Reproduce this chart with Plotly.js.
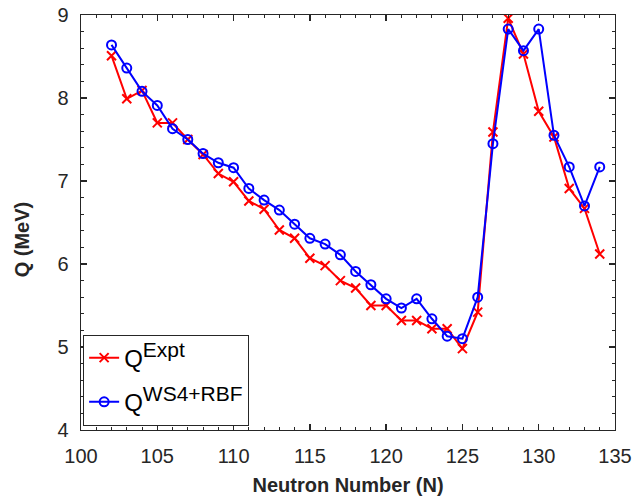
<!DOCTYPE html>
<html>
<head>
<meta charset="utf-8">
<script src="https://cdn.plot.ly/plotly-3.0.1.min.js"></script>
<style>html,body{margin:0;padding:0;background:#fff;}#chart{width:632px;height:501px;}</style>
</head>
<body>
<div id="chart"></div>
<script>
const neutronN = [102,103,104,105,106,107,108,109,110,111,112,113,114,115,116,117,118,119,120,121,122,123,124,125,126,127,128,129,130,131,132,133,134];
const qExpt = [8.51,7.99,8.09,7.70,7.70,7.50,7.32,7.09,6.99,6.76,6.66,6.41,6.31,6.07,5.98,5.80,5.71,5.50,5.50,5.32,5.32,5.22,5.22,4.98,5.42,7.59,8.96,8.53,7.84,7.53,6.91,6.67,6.12];
const qWS4 = [8.64,8.36,8.08,7.91,7.63,7.50,7.33,7.22,7.16,6.91,6.77,6.65,6.48,6.31,6.24,6.11,5.91,5.75,5.58,5.47,5.58,5.34,5.13,5.10,5.60,7.45,8.83,8.57,8.83,7.55,7.17,6.70,7.17];
const seriesNames = ['Q<sup><span style="font-size:21px">Expt</span></sup>', 'Q<sup><span style="font-size:21px">WS4+RBF</span></sup>'];
const xTitle = 'Neutron Number (N)';
const yTitle = 'Q (MeV)';

const axisColor = '#262626';
const fontFam = 'Liberation Sans, Arial, Helvetica, sans-serif';

const traces = [
  {x: neutronN, y: qExpt, name: seriesNames[0], type: 'scatter', mode: 'lines+markers',
   legendgroup: 'a',
   line: {color: '#ff0000', width: 2},
   marker: {symbol: 'x-thin-open', size: 9, color: '#ff0000', line: {color: '#ff0000', width: 2}}},
  {x: neutronN, y: qWS4, name: seriesNames[1], type: 'scatter', mode: 'lines+markers',
   legendgroup: 'b',
   line: {color: '#0000ff', width: 2},
   marker: {symbol: 'circle-open', size: 9, color: '#0000ff', line: {color: '#0000ff', width: 2}}}
];

const axBase = {
  showline: true, mirror: 'ticks', linecolor: axisColor, linewidth: 1.3,
  ticks: 'inside', ticklen: 6, tickcolor: axisColor, tickwidth: 1.3,
  showgrid: false, zeroline: false,
  tickfont: {family: fontFam, size: 20, color: axisColor}
};

const layout = {
  width: 632, height: 501,
  paper_bgcolor: '#fff', plot_bgcolor: '#fff',
  margin: {l: 81, r: 17, t: 15, b: 71},
  font: {family: fontFam, color: axisColor},
  xaxis: Object.assign({}, axBase, {
    range: [100, 135], dtick: 5, tick0: 100,
    ticklabelstandoff: 8,
    minor: {ticks: 'inside', ticklen: 3, dtick: 1, tickcolor: axisColor, tickwidth: 1},
    title: {text: '<b>' + xTitle + '</b>', font: {family: fontFam, size: 20, color: axisColor}, standoff: 11}
  }),
  yaxis: Object.assign({}, axBase, {
    range: [4, 9], dtick: 1, tick0: 4,
    ticklabelstandoff: 7,
    minor: {ticks: 'inside', ticklen: 3, dtick: 0.2, tickcolor: axisColor, tickwidth: 1},
    title: {text: ''}
  }),
  annotations: [{
    text: '<b>' + yTitle + '</b>', xref: 'paper', yref: 'paper',
    x: -0.11, y: 0.46, xanchor: 'center', yanchor: 'middle',
    textangle: -90, showarrow: false,
    font: {family: fontFam, size: 20, color: axisColor}
  }],
  showlegend: true,
  legend: {
    x: 0.004, y: 0.23, xanchor: 'left', yanchor: 'top',
    bgcolor: '#fff', bordercolor: axisColor, borderwidth: 1,
    font: {family: fontFam, size: 24, color: '#000'},
    tracegroupgap: 10, itemwidth: 30
  }
};

Plotly.newPlot('chart', traces, layout, {displayModeBar: false, staticPlot: true});
</script>
</body>
</html>
